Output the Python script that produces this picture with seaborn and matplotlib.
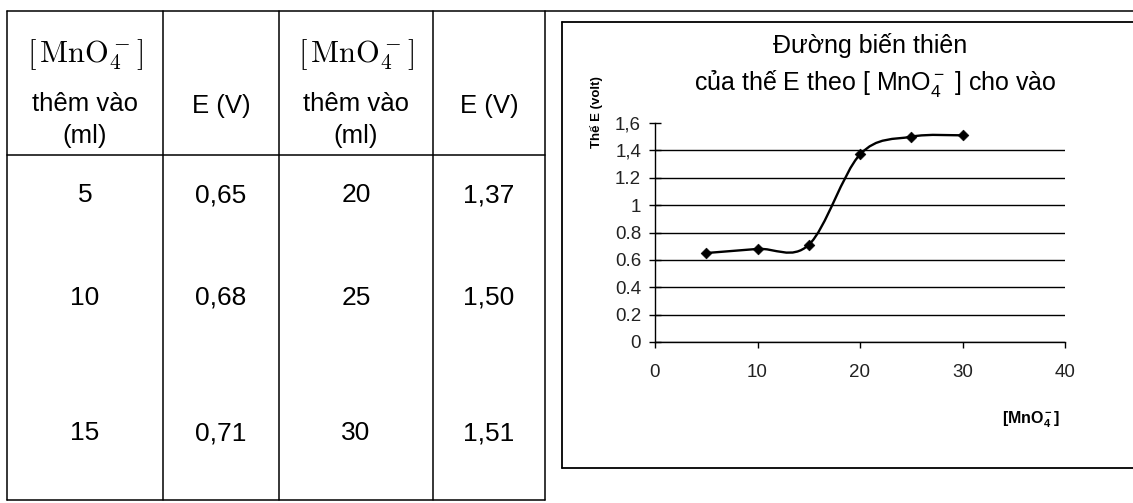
import numpy as np
import pandas as pd
import matplotlib
matplotlib.use("Agg")
import matplotlib.pyplot as plt
import seaborn as sns
from matplotlib.path import Path
from matplotlib.patches import PathPatch


# 1. Data

ml_added = [5, 10, 15, 20, 25, 30]
e_volt = [0.65, 0.68, 0.71, 1.37, 1.50, 1.51]

ytick_values = [0, 0.2, 0.4, 0.6, 0.8, 1.0, 1.2, 1.4, 1.6]
ytick_labels = ["0", "0.2", "0.4", "0.6", "0.8", "1", "1.2", "1,4", "1,6"]
xtick_values = [0, 10, 20, 30, 40]

header_conc = r"$[\,\mathrm{MnO}_4^-]$"
header_added = "thêm vào"
header_unit = "(ml)"
header_e = "E (V)"

title_line1 = "Đường biến thiên"
title_line2 = r"của thế E theo [ $\mathrm{MnO_4^-}$ ] cho vào"
ylabel_text = "Thế E (volt)"
xlabel_text = r"$\mathbf{[MnO_4^-]}$"

df = pd.DataFrame({"ml": ml_added, "E": e_volt})


# 2. Figure setup

sns.set_theme(style="white")
plt.rcParams["font.family"] = ["Liberation Sans", "DejaVu Sans"]
plt.rcParams["mathtext.rm"] = "Liberation Sans"
plt.rcParams["mathtext.bf"] = "Liberation Sans:bold"
plt.rcParams["mathtext.it"] = "Liberation Sans:italic"

W, H = 1133, 503
fig = plt.figure(figsize=(W / 100, H / 100), dpi=100)
fig.patch.set_facecolor("white")

# overlay in pixel coordinates for the table and the chart frame
ov = fig.add_axes([0, 0, 1, 1], zorder=0)
ov.set_xlim(0, W)
ov.set_ylim(H, 0)
ov.axis("off")

lw = 1.1
col_edges = [7, 163, 279, 433, 545]
top_y, head_y, bottom_y = 11, 155, 500
row_y = [195, 298, 433]

ov.plot([7, W], [top_y, top_y], color="black", lw=lw)
ov.plot([col_edges[0], col_edges[-1]], [head_y, head_y], color="black", lw=lw)
ov.plot([col_edges[0], col_edges[-1]], [bottom_y, bottom_y], color="black", lw=lw)
for xe in col_edges:
    ov.plot([xe, xe], [top_y, bottom_y], color="black", lw=lw)

# headers
for c in (0, 2):
    cx = (col_edges[c] + col_edges[c + 1]) / 2
    ov.text(cx, 55, header_conc, ha="center", va="center", fontsize=22,
            math_fontfamily="cm", color="black")
    ov.text(cx, 104, header_added, ha="center", va="center", fontsize=18.5, color="black")
    ov.text(cx, 136, header_unit, ha="center", va="center", fontsize=18.5, color="black")
for c in (1, 3):
    cx = (col_edges[c] + col_edges[c + 1]) / 2
    ov.text(cx, 106, header_e, ha="center", va="center", fontsize=18.5, color="black")

# table body: first half in columns 1-2, second half in columns 3-4
half = len(ml_added) // 2
for i in range(len(ml_added)):
    block = 0 if i < half else 2
    r = i % half
    cx_ml = (col_edges[block] + col_edges[block + 1]) / 2
    cx_e = (col_edges[block + 1] + col_edges[block + 2]) / 2
    ov.text(cx_ml, row_y[r], str(ml_added[i]), ha="center", va="center",
            fontsize=19, color="black")
    ov.text(cx_e, row_y[r], f"{e_volt[i]:.2f}".replace(".", ","), ha="center",
            va="center", fontsize=19, color="black")

# chart frame
ov.plot([562, 562], [22, 468], color="black", lw=1.3)
ov.plot([562, W], [22, 22], color="black", lw=1.3)
ov.plot([562, W], [468, 468], color="black", lw=1.3)

# chart titles and axis labels
ov.text(870, 45, title_line1, ha="center", va="center", fontsize=18,
        math_fontfamily="custom", color="black")
ov.text(875, 83, title_line2, ha="center", va="center", fontsize=18,
        math_fontfamily="custom", color="black")
ov.text(596, 112, ylabel_text, ha="center", va="center", rotation=90,
        fontsize=9.5, fontweight="bold", color="black")
ov.text(1031, 420, xlabel_text, ha="center", va="center", fontsize=11.5,
        math_fontfamily="custom", color="black")


# 3. Chart

ax = fig.add_axes([655 / W, 1 - 342 / H, (1065 - 655) / W, (342 - 123) / H], zorder=1)
ax.patch.set_alpha(0)


def smooth_path(xs, ys):
    # Excel-like smoothed line: cubic Bezier through the points
    pts = np.column_stack([xs, ys]).astype(float)
    n = len(pts)
    verts = [pts[0]]
    codes = [Path.MOVETO]
    for i in range(n - 1):
        p0 = pts[max(i - 1, 0)]
        p1 = pts[i]
        p2 = pts[i + 1]
        p3 = pts[min(i + 2, n - 1)]
        verts += [p1 + (p2 - p0) / 6, p2 - (p3 - p1) / 6, p2]
        codes += [Path.CURVE4] * 3
    return Path(verts, codes)


ax.add_patch(PathPatch(smooth_path(df["ml"], df["E"]), facecolor="none",
                       edgecolor="black", lw=1.7, zorder=3))
sns.scatterplot(data=df, x="ml", y="E", marker="D", s=30, color="black",
                edgecolor="black", zorder=4, ax=ax)

ax.set_xlim(0, 40)
ax.set_ylim(0, 1.6)
ax.set_xticks(xtick_values)
ax.set_xticklabels([str(v) for v in xtick_values])
ax.set_yticks(ytick_values)
ax.set_yticklabels(ytick_labels)
ax.set_xlabel("")
ax.set_ylabel("")

ax.grid(axis="y", color="black", lw=1.0)
ax.grid(axis="x", visible=False)
ax.get_ygridlines()[-1].set_visible(False)

for side in ("top", "right"):
    ax.spines[side].set_visible(False)
for side in ("left", "bottom"):
    ax.spines[side].set_color("black")
    ax.spines[side].set_linewidth(1.0)

ax.tick_params(axis="y", direction="inout", length=8, width=1, color="black",
               pad=6, labelsize=13.5, labelcolor="#222222", left=True)
ax.tick_params(axis="x", direction="out", length=4, width=1, color="black",
               pad=12, labelsize=13.5, labelcolor="#222222", bottom=True)

fig.savefig("out.png", dpi=100, facecolor="white")
